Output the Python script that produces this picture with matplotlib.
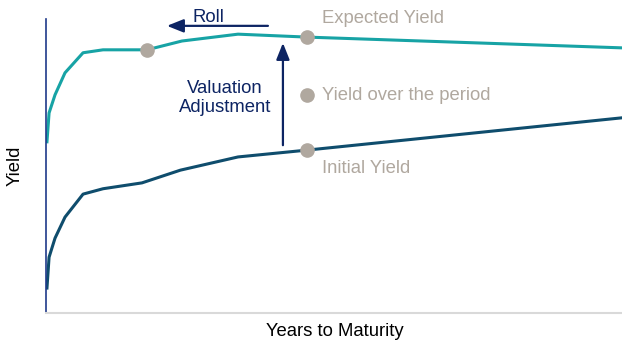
import matplotlib.pyplot as plt

plt.rcParams['font.family'] = ['Liberation Sans', 'DejaVu Sans']

# yield curves: years to maturity vs yield (arbitrary units)
years = [0.05, 0.16, 0.47, 0.99, 1.93, 2.97, 5.26, 7.08, 10.0, 13.6, 30.0]
expected_curve = [3.49, 4.08, 4.45, 4.90, 5.31, 5.37, 5.37, 5.55, 5.69, 5.63, 5.41]
years_init = [0.05, 0.16, 0.47, 0.99, 1.93, 2.97, 5.0, 7.0, 10.0, 13.6, 30.0]
initial_curve = [0.50, 1.13, 1.52, 1.95, 2.42, 2.53, 2.65, 2.91, 3.18, 3.32, 3.98]

# highlighted points
point_years = [5.26, 13.6, 13.6, 13.6]
point_yields = [5.37, 5.63, 4.45, 3.32]

point_labels = ['Expected Yield', 'Yield over the period', 'Initial Yield']
label_yields = [6.02, 4.43, 2.95]

TEAL = '#17a3a5'
DARK = '#0f4d6d'
NAVY = '#0d2463'
GREY = '#b0a89f'
FS = 13.3

fig = plt.figure(figsize=(6.22, 3.45), dpi=100)
ax = fig.add_axes([46 / 622, (345 - 312.5) / 345, 576 / 622, (312.5 - 19) / 345])

ax.plot(years, expected_curve, color=TEAL, lw=2.2, solid_joinstyle='round', zorder=2)
ax.plot(years_init, initial_curve, color=DARK, lw=2.2, solid_joinstyle='round', zorder=2)
ax.plot(point_years, point_yields, 'o', color=GREY, ms=9.5, zorder=3)

for txt, yv in zip(point_labels, label_yields):
    ax.text(14.375, yv, txt, color=GREY, fontsize=FS, ha='left', va='center')

# valuation adjustment arrow
ax.annotate('', xy=(12.34, 5.51), xytext=(12.34, 3.42),
            arrowprops=dict(arrowstyle='-|>,head_length=1.0,head_width=0.4',
                            color=NAVY, lw=1.6, shrinkA=0, shrinkB=0, mutation_scale=10))
ax.text(9.32, 4.38, 'Valuation\nAdjustment', color=NAVY, fontsize=FS,
        ha='center', va='center', linespacing=1.15)

# roll-down arrow
ax.annotate('', xy=(6.3, 5.86), xytext=(11.56, 5.86),
            arrowprops=dict(arrowstyle='-|>,head_length=1.0,head_width=0.4',
                            color=NAVY, lw=1.6, shrinkA=0, shrinkB=0, mutation_scale=10),
            annotation_clip=False)
ax.text(8.44, 6.03, 'Roll', color=NAVY, fontsize=FS, ha='center', va='center')

ax.set_xlim(0, 30)
ax.set_ylim(0, 6)
ax.set_xticks([])
ax.set_yticks([])
ax.spines['top'].set_visible(False)
ax.spines['right'].set_visible(False)
ax.spines['left'].set_color('#1f3a8a')
ax.spines['left'].set_linewidth(1.2)
ax.spines['bottom'].set_color('#d9d9d9')
ax.spines['bottom'].set_linewidth(1.5)

fig.text(335 / 622, 1 - 331 / 345, 'Years to Maturity', fontsize=FS,
         ha='center', va='center', color='black')
fig.text(15 / 622, 1 - 166 / 345, 'Yield', fontsize=FS, rotation=90,
         ha='center', va='center', color='black')

fig.savefig('out.png', dpi=100)
